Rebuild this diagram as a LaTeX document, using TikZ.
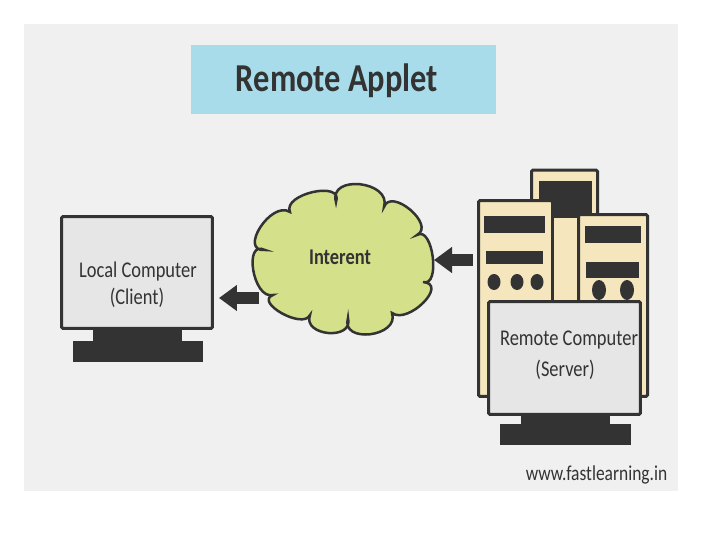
\documentclass[tikz,border=0pt]{standalone}
\usepackage{fontspec}
\usepackage{xcolor}
\usepackage{tikz}
\usetikzlibrary{arrows.meta}
\setmainfont[FakeStretch=0.82]{Carlito}
\definecolor{panelgray}{HTML}{F0F0F0}
\definecolor{titleblue}{HTML}{A8DCEB}
\definecolor{screengray}{HTML}{E6E6E6}
\definecolor{towercream}{HTML}{F5E6BE}
\definecolor{cloudgreen}{HTML}{D5E08A}
\definecolor{darkline}{HTML}{333333}
\tikzset{
  monitor/.style={draw=darkline,fill=screengray,line width=0.06cm,rounded corners=0.03cm,inner sep=0pt},
  tower/.style={draw=darkline,fill=towercream,line width=0.06cm,rounded corners=0.03cm,inner sep=0pt},
  caption/.style={text=darkline,font=\fontsize{12.8}{14}\selectfont,inner sep=0pt},
  flowarrow/.style={draw=darkline,line width=0.25cm,-{Triangle[length=0.36cm,width=0.5cm]}}
}

\begin{document}
\begin{tikzpicture}[x=0.02cm,y=-0.02cm]
  \useasboundingbox (0,0) rectangle (720,540);
  \fill[white] (0,0) rectangle (720,540);
  \fill[panelgray] (24,24) rectangle (678,491);
  \node[fill=titleblue,minimum width=6.1cm,minimum height=1.38cm,inner sep=0pt] (title) at (343.5,79.5) {};
  \node[text=darkline,inner sep=0pt,font=\fontsize{22.5}{24}\selectfont\bfseries] (titletext) at (337,81) {Remote Applet};
  % client
  \fill[darkline] (93,330) rectangle (182,342);
  \fill[darkline] (73,341) rectangle (203,362);
  \node[monitor,minimum width=3.02cm,minimum height=2.24cm] (client) at (137,272.5) {};
  \node[caption] (clientname) at (138,272) {Local Computer};
  \node[caption] (clientrole) at (137,298) {(Client)};
  % cloud
  \draw[draw=darkline,fill=cloudgreen,line width=0.05cm] (290,212)
    .. controls (282,194) and (344,180) .. (336,202)
    .. controls (328,174) and (392,181) .. (384,207)
    .. controls (391,187) and (436,225) .. (417,235)
    .. controls (433,225) and (441,288) .. (423,282)
    .. controls (449,284) and (408,325) .. (392,313)
    .. controls (400,337) and (340,344) .. (348,318)
    .. controls (354,341) and (302,336) .. (310,315)
    .. controls (303,330) and (254,302) .. (273,295)
    .. controls (253,300) and (243,239) .. (265,250)
    .. controls (238,252) and (271,200) .. (290,212) -- cycle;
  \node[caption,font=\fontsize{12.8}{14}\selectfont\bfseries] (net) at (340,257) {Interent};
  % server towers
  \node[tower,minimum width=1.32cm,minimum height=3.4cm] (backtower) at (564.5,255) {};
  \fill[darkline] (539,181) rectangle (592,218);
  \node[tower,minimum width=1.48cm,minimum height=3.92cm] (lefttower) at (515.5,298.5) {};
  \node[tower,minimum width=1.38cm,minimum height=3.64cm] (righttower) at (613,305.5) {};
  \foreach \xa/\ya/\xb/\yb in {484/216/545/233, 486/251/543/264, 585/226/641/243, 586/262/639/278}{
    \fill[darkline] (\xa,\ya) rectangle (\xb,\yb);}
  \foreach \x in {494,517,537}{\fill[darkline] (\x,282) ellipse (6.5 and 8);}
  \foreach \x in {599,627}{\fill[darkline] (\x,290) ellipse (7 and 10);}
  % server screen
  \fill[darkline] (521,415) rectangle (610,425);
  \fill[darkline] (500,424) rectangle (631,445);
  \node[monitor,minimum width=3.04cm,minimum height=2.26cm] (server) at (564.5,358) {};
  \node[caption] (servername) at (569,340) {Remote Computer};
  \node[caption] (serverrole) at (565,370) {(Server)};
  % arrows
  \coordinate (cloudeast) at (434,260);
  \coordinate (cloudwest) at (259,298);
  \draw[flowarrow,shorten <=0.08cm] (lefttower.west |- cloudeast) -- (cloudeast);
  \draw[flowarrow,shorten >=0.1cm] (cloudwest) -- (client.east |- cloudwest);
  \node[caption,font=\fontsize{12.1}{14}\selectfont] (site) at (596.5,475) {www.fastlearning.in};
\end{tikzpicture}
\end{document}
